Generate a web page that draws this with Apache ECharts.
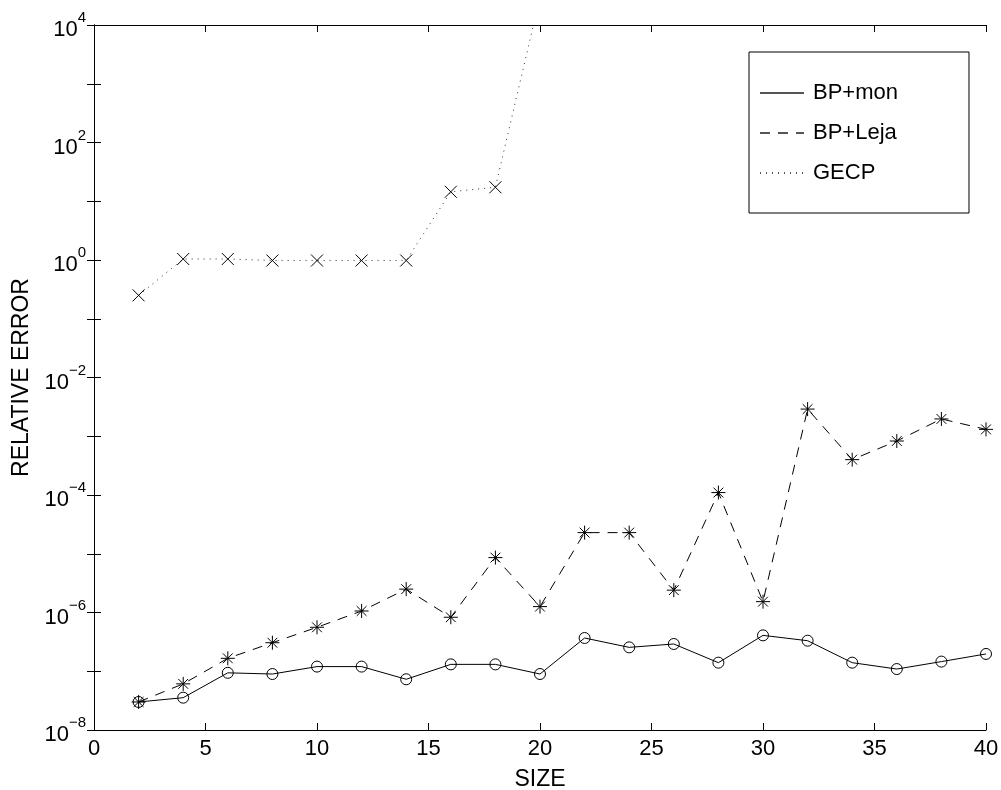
<!DOCTYPE html>
<html>
<head>
<meta charset="utf-8">
<script src="https://cdn.jsdelivr.net/npm/echarts@6/dist/echarts.min.js"></script>
<style>
  html, body { margin: 0; padding: 0; background: #fff; }
  #chart { width: 1001px; height: 790px; }
</style>
</head>
<body>
<div id="chart"></div>
<script>
const sizes = [2, 4, 6, 8, 10, 12, 14, 16, 18, 20, 22, 24, 26, 28, 30, 32, 34, 36, 38, 40];

const bpMon = [3.0e-8, 3.55e-8, 9.4e-8, 8.97e-8, 1.2e-7, 1.2e-7, 7.3e-8, 1.31e-7, 1.31e-7, 8.97e-8,
  3.68e-7, 2.55e-7, 2.91e-7, 1.4e-7, 4.08e-7, 3.31e-7, 1.4e-7, 1.09e-7, 1.46e-7, 1.97e-7];

const bpLeja = [3.0e-8, 6.1e-8, 1.66e-7, 3.06e-7, 5.6e-7, 1.06e-6, 2.5e-6, 8.3e-7, 8.6e-6, 1.26e-6,
  2.29e-5, 2.29e-5, 2.4e-6, 1.1e-4, 1.53e-6, 2.9e-3, 4.0e-4, 8.3e-4, 1.97e-3, 1.31e-3];

const gecpSizes = [2, 4, 6, 8, 10, 12, 14, 16, 18, 20];
const gecp = [0.25, 1.04, 1.04, 0.98, 0.98, 0.98, 0.98, 14.5, 17.3, 3e4];

const seriesNames = ['BP+mon', 'BP+Leja', 'GECP'];

const font = 'Liberation Sans, Arial, Helvetica, sans-serif';
const ink = '#000';

const starPath = 'path://M0,-10L0,10M-10,0L10,0M-7,-7L7,7M-7,7L7,-7';
const crossPath = 'path://M-10,-10L10,10M-10,10L10,-10';

const chart = echarts.init(document.getElementById('chart'));

const pairs = (xs, ys) => xs.map((x, i) => [x, ys[i]]);

// only even powers of ten get a label, like the original
const powerLabel = (value) => {
  const exp = Math.round(Math.log10(value));
  if (exp % 2 !== 0) return '';
  const txt = exp < 0 ? '\u2212' + Math.abs(exp) : String(exp);
  return '{b|10}{s|' + txt + '}';
};

const tickStyle = { show: true, inside: true, length: 7, lineStyle: { color: ink, width: 1 } };
const lineAxis = { show: true, lineStyle: { color: ink, width: 1 } };

chart.setOption({
  animation: false,
  backgroundColor: '#fff',
  grid: { left: 94, right: 15, top: 25, bottom: 60, containLabel: false, outerBoundsMode: 'none' },
  legend: {
    orient: 'vertical',
    left: 749,
    top: 52,
    data: seriesNames,
    itemWidth: 44,
    itemHeight: 14,
    itemGap: 18,
    padding: [30, 71, 29, 10],
    borderColor: ink,
    borderWidth: 1,
    backgroundColor: '#fff',
    itemStyle: { opacity: 0 },
    lineStyle: { color: '#555' },
    textStyle: { fontFamily: font, fontSize: 22, color: ink, padding: [0, 0, 0, 4], lineHeight: 22 }
  },
  xAxis: [
    {
      type: 'value',
      min: 0,
      max: 40,
      interval: 5,
      name: 'SIZE',
      nameLocation: 'middle',
      nameGap: 38,
      nameTextStyle: { fontFamily: font, fontSize: 23, color: ink },
      axisLine: lineAxis,
      axisTick: tickStyle,
      axisLabel: { fontFamily: font, fontSize: 22, color: ink, margin: 8 },
      splitLine: { show: false }
    },
    {
      type: 'value',
      position: 'top',
      min: 0,
      max: 40,
      interval: 5,
      axisLine: lineAxis,
      axisTick: tickStyle,
      axisLabel: { show: false },
      splitLine: { show: false }
    }
  ],
  yAxis: [
    {
      type: 'log',
      logBase: 10,
      min: 1e-8,
      max: 1e4,
      interval: 1,
      name: 'RELATIVE ERROR',
      nameLocation: 'middle',
      nameGap: 52,
      nameTextStyle: { fontFamily: font, fontSize: 23, color: ink },
      axisLine: lineAxis,
      axisTick: tickStyle,
      axisLabel: {
        margin: 8,
        showMinLabel: true,
        showMaxLabel: true,
        formatter: powerLabel,
        rich: {
          b: { fontFamily: font, fontSize: 22, color: ink, lineHeight: 22, padding: [10, 0, 0, 0] },
          s: { fontFamily: font, fontSize: 15, color: ink, lineHeight: 15, padding: [0, 0, 14, 0] }
        }
      },
      splitLine: { show: false }
    },
    {
      type: 'log',
      logBase: 10,
      position: 'right',
      min: 1e-8,
      max: 1e4,
      interval: 1,
      axisLine: lineAxis,
      axisTick: tickStyle,
      axisLabel: { show: false },
      splitLine: { show: false }
    }
  ],
  series: [
    {
      name: seriesNames[0],
      type: 'line',
      data: pairs(sizes, bpMon),
      symbol: 'circle',
      symbolSize: 11,
      showAllSymbol: true,
      lineStyle: { color: ink, width: 1, type: 'solid' },
      itemStyle: { color: 'rgba(0,0,0,0)', borderColor: ink, borderWidth: 1 }
    },
    {
      name: seriesNames[1],
      type: 'line',
      data: pairs(sizes, bpLeja),
      symbol: starPath,
      symbolSize: 14,
      showAllSymbol: true,
      lineStyle: { color: ink, width: 1, type: [10, 8] },
      itemStyle: { color: 'none', borderColor: ink, borderWidth: 1 }
    },
    {
      name: seriesNames[2],
      type: 'line',
      data: pairs(gecpSizes, gecp),
      symbol: crossPath,
      symbolSize: 12,
      showAllSymbol: true,
      lineStyle: { color: '#333', width: 1, type: [1, 5] },
      itemStyle: { color: 'none', borderColor: ink, borderWidth: 1 }
    }
  ]
});
</script>
</body>
</html>
